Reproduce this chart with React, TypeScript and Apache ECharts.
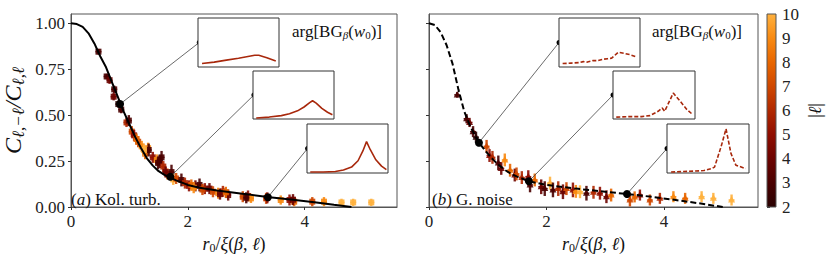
import React, { useEffect, useRef } from 'react';
import * as echarts from 'echarts';

const FONT = 'Liberation Serif';

// ---------- data ----------
const kolCurveX = [0, 0.1, 0.2, 0.3, 0.4, 0.5, 0.6, 0.7, 0.8, 0.9, 1.0, 1.1, 1.2, 1.3, 1.4, 1.5, 1.6, 1.7, 1.8, 2.0, 2.2, 2.5, 3.0, 3.4, 3.8, 4.2, 4.5, 4.8];
const kolCurveY = [1.0, 0.995, 0.98, 0.945, 0.89, 0.82, 0.76, 0.68, 0.6, 0.52, 0.45, 0.38, 0.32, 0.265, 0.225, 0.195, 0.175, 0.16, 0.145, 0.12, 0.105, 0.09, 0.07, 0.053, 0.04, 0.025, 0.012, 0.0];

const noiseCurveX = [0, 0.1, 0.2, 0.3, 0.4, 0.5, 0.6, 0.7, 0.8, 0.9, 1.0, 1.1, 1.2, 1.3, 1.4, 1.5, 1.7, 2.0, 2.5, 3.0, 3.4, 3.8, 4.2, 4.6, 5.0];
const noiseCurveY = [1.0, 0.99, 0.95, 0.88, 0.78, 0.64, 0.52, 0.44, 0.38, 0.33, 0.29, 0.255, 0.225, 0.2, 0.18, 0.165, 0.14, 0.12, 0.1, 0.083, 0.07, 0.055, 0.038, 0.02, 0.0];

const kolX = [0.47, 0.61, 0.66, 0.74, 0.73, 0.81, 0.86, 0.95, 0.99, 1.04, 1.08, 1.15, 1.21, 1.27, 1.32, 1.33, 1.40, 1.47, 1.49, 1.52, 1.55, 1.58, 1.65, 1.72, 1.75, 1.80, 1.89, 1.95, 2.02, 2.06, 2.13, 2.20, 2.29, 2.37, 2.43, 2.52, 2.60, 2.69, 2.94, 3.03, 3.08, 3.34, 3.59, 3.74, 3.82, 4.13, 4.33, 4.63, 4.83, 5.14, 2.10, 2.25, 2.55, 2.65, 3.00, 3.36, 3.80, 1.12, 1.25, 1.62];
const kolY = [0.845, 0.71, 0.69, 0.64, 0.60, 0.56, 0.53, 0.46, 0.47, 0.41, 0.39, 0.355, 0.33, 0.29, 0.32, 0.31, 0.27, 0.256, 0.24, 0.247, 0.27, 0.22, 0.18, 0.19, 0.15, 0.155, 0.147, 0.13, 0.115, 0.12, 0.115, 0.12, 0.10, 0.10, 0.083, 0.075, 0.085, 0.065, 0.056, 0.06, 0.047, 0.047, 0.038, 0.038, 0.029, 0.029, 0.029, 0.025, 0.025, 0.025, 0.105, 0.095, 0.07, 0.08, 0.05, 0.05, 0.04, 0.37, 0.31, 0.19];
const kolL = [3, 3, 4, 3, 4, 2, 3, 6, 3, 7, 5, 7, 9, 8, 9, 3, 5, 9, 3, 3, 3, 6, 8, 3, 10, 7, 3, 6, 5, 8, 4, 3, 5, 4, 7, 9, 6, 4, 7, 5, 9, 7, 9, 5, 8, 7, 9, 10, 10, 10, 9, 7, 4, 8, 3, 5, 4, 8, 10, 4];
const kolE = [0.015, 0.015, 0.02, 0.02, 0.02, 0.02, 0.02, 0.025, 0.03, 0.03, 0.03, 0.03, 0.03, 0.03, 0.03, 0.035, 0.03, 0.03, 0.035, 0.035, 0.035, 0.03, 0.03, 0.04, 0.03, 0.03, 0.035, 0.03, 0.03, 0.03, 0.03, 0.035, 0.03, 0.03, 0.03, 0.03, 0.03, 0.03, 0.03, 0.03, 0.025, 0.03, 0.025, 0.03, 0.025, 0.025, 0.025, 0.02, 0.02, 0.02, 0.03, 0.03, 0.03, 0.03, 0.03, 0.03, 0.03, 0.03, 0.03, 0.03];

const nzX = [0.48, 0.64, 0.69, 0.75, 0.80, 0.98, 1.03, 1.08, 1.18, 1.23, 1.29, 1.38, 1.46, 1.49, 1.58, 1.69, 1.72, 1.80, 1.91, 1.97, 2.06, 2.11, 2.20, 2.28, 2.34, 2.45, 2.50, 2.57, 2.68, 2.80, 2.91, 3.02, 3.10, 3.42, 3.50, 3.59, 3.76, 3.93, 4.16, 4.36, 4.64, 4.84, 5.15];
const nzY = [0.61, 0.48, 0.46, 0.41, 0.38, 0.33, 0.28, 0.27, 0.24, 0.21, 0.256, 0.20, 0.174, 0.18, 0.16, 0.165, 0.12, 0.147, 0.11, 0.10, 0.13, 0.093, 0.10, 0.083, 0.10, 0.093, 0.085, 0.083, 0.075, 0.08, 0.075, 0.056, 0.065, 0.038, 0.055, 0.065, 0.038, 0.047, 0.056, 0.047, 0.056, 0.047, 0.038];
const nzL = [3, 3, 4, 3, 2, 7, 5, 6, 3, 4, 9, 8, 4, 7, 6, 5, 3, 8, 4, 3, 10, 3, 6, 4, 7, 5, 9, 10, 3, 6, 5, 4, 8, 7, 8, 5, 7, 6, 9, 8, 10, 10, 10];
const nzE = [0.015, 0.025, 0.025, 0.03, 0.03, 0.035, 0.035, 0.035, 0.04, 0.035, 0.035, 0.035, 0.035, 0.035, 0.035, 0.035, 0.04, 0.035, 0.04, 0.04, 0.035, 0.04, 0.04, 0.04, 0.035, 0.04, 0.035, 0.035, 0.04, 0.035, 0.035, 0.035, 0.035, 0.035, 0.03, 0.03, 0.03, 0.03, 0.03, 0.03, 0.03, 0.03, 0.03];

// highlighted points (linked to insets)
const kolHiX = [0.84, 1.70, 3.37];
const kolHiY = [0.56, 0.165, 0.053];
const nzHiX = [0.85, 1.70, 3.37];
const nzHiY = [0.35, 0.14, 0.071];

// inset curves: arg[BG_beta(w0)] (normalised)
const kolInsetX = [
  [0.05, 0.2, 0.35, 0.5, 0.6, 0.7, 0.75, 0.85, 0.96],
  [0.04, 0.2, 0.35, 0.45, 0.55, 0.63, 0.7, 0.735, 0.78, 0.85, 0.92, 0.98],
  [0.04, 0.2, 0.35, 0.45, 0.55, 0.63, 0.69, 0.735, 0.78, 0.85, 0.92, 0.98],
];
const kolInsetY = [
  [0.07, 0.1, 0.14, 0.18, 0.21, 0.24, 0.24, 0.19, 0.12],
  [0.02, 0.04, 0.07, 0.11, 0.17, 0.25, 0.34, 0.38, 0.33, 0.22, 0.14, 0.09],
  [0.02, 0.02, 0.03, 0.06, 0.12, 0.25, 0.45, 0.64, 0.48, 0.27, 0.14, 0.07],
];
const nzInsetX = [
  [0.045, 0.15, 0.25, 0.3, 0.35, 0.42, 0.48, 0.55, 0.6, 0.65, 0.73, 0.8, 0.88, 0.95],
  [0.04, 0.2, 0.35, 0.45, 0.55, 0.6, 0.63, 0.735, 0.82, 0.9, 0.96],
  [0.05, 0.2, 0.35, 0.45, 0.54, 0.58, 0.66, 0.72, 0.78, 0.84, 0.96],
];
const nzInsetY = [
  [0.07, 0.08, 0.09, 0.11, 0.1, 0.13, 0.13, 0.16, 0.17, 0.18, 0.3, 0.28, 0.25, 0.21],
  [0.04, 0.05, 0.05, 0.07, 0.16, 0.23, 0.16, 0.54, 0.37, 0.2, 0.11],
  [0.02, 0.03, 0.04, 0.05, 0.09, 0.12, 0.54, 0.9, 0.4, 0.16, 0.09],
];

const yTicks = [0, 0.25, 0.5, 0.75, 1.0];
const xTicks = [0, 2, 4];
const CMAP = ['#2a0202', '#4a0000', '#6c0300', '#8f0d00', '#b02800', '#cf4700', '#e86600', '#f88a12', '#ffb13e'];

// ---------- layout ----------
const Y_MAX = 1.05;
const MAIN = [
  { left: 69, top: 14, width: 328, height: 193, xMax: 5.58 },
  { left: 429, top: 14, width: 329, height: 193, xMax: 5.6 },
];
const INSETS = [
  [
    { left: 198, top: 18, width: 81, height: 49 },
    { left: 253, top: 71, width: 81, height: 48 },
    { left: 307, top: 124, width: 81, height: 49 },
  ],
  [
    { left: 559, top: 18, width: 81, height: 49 },
    { left: 613, top: 71, width: 82, height: 48 },
    { left: 667, top: 124, width: 82, height: 49 },
  ],
];
const CBAR = { left: 767, top: 14, width: 9, height: 193 };

const toData = (g: any, px: number, py: number) => [
  ((px - g.left) / g.width) * g.xMax,
  ((g.top + g.height - py) / g.height) * Y_MAX,
];

const xRich = {
  i: { fontFamily: FONT, fontSize: 18, fontStyle: 'italic', color: '#111' },
  n: { fontFamily: FONT, fontSize: 18, color: '#111' },
  s: { fontFamily: FONT, fontSize: 12, fontStyle: 'italic', color: '#111', padding: [9, 0, 0, 0] },
  s0: { fontFamily: FONT, fontSize: 12, color: '#111', padding: [9, 0, 0, 0] },
};
const yRich = {
  i: { fontFamily: FONT, fontSize: 24, fontStyle: 'italic', color: '#111' },
  n: { fontFamily: FONT, fontSize: 24, color: '#111' },
  s: { fontFamily: FONT, fontSize: 17, fontStyle: 'italic', color: '#111', padding: [11, 0, 0, 0] },
};

function buildOption() {
  const grids: any[] = [];
  const xAxes: any[] = [];
  const yAxes: any[] = [];
  const series: any[] = [];
  const errIdx: number[] = [];

  const panels = [
    { curveX: kolCurveX, curveY: kolCurveY, px: kolX, py: kolY, pl: kolL, pe: kolE, hx: kolHiX, hy: kolHiY, ix: kolInsetX, iy: kolInsetY, dashed: false, marker: 'square' },
    { curveX: noiseCurveX, curveY: noiseCurveY, px: nzX, py: nzY, pl: nzL, pe: nzE, hx: nzHiX, hy: nzHiY, ix: nzInsetX, iy: nzInsetY, dashed: true, marker: 'triangle' },
  ];

  panels.forEach((p, k) => {
    const g = MAIN[k];
    const gi = grids.length;
    grids.push({ left: g.left, top: g.top, width: g.width, height: g.height, show: true, borderColor: '#555', borderWidth: 1, backgroundColor: 'transparent', z: 0 });
    xAxes.push({
      gridIndex: gi, type: 'value', min: 0, max: g.xMax,
      axisLine: { show: true, onZero: false, lineStyle: { color: '#555', width: 1 } },
      axisTick: { show: true, length: 3, customValues: xTicks, lineStyle: { color: '#333' } },
      axisLabel: { customValues: xTicks, fontFamily: FONT, fontSize: 17, color: '#222', margin: 6 },
      splitLine: { show: false },
      name: '{i|r}{s0|0}{n|/}{i|ξ}{n|(}{i|β}{n|, }{i|ℓ}{n|)}',
      nameLocation: 'middle', nameGap: 26,
      nameTextStyle: { rich: xRich },
    });
    yAxes.push({
      gridIndex: gi, type: 'value', min: 0, max: Y_MAX,
      axisLine: { show: true, lineStyle: { color: '#555', width: 1 } },
      axisTick: { show: true, length: 3, customValues: yTicks, lineStyle: { color: '#333' } },
      axisLabel: { show: k === 0, customValues: yTicks, formatter: (v: number) => v.toFixed(2), fontFamily: FONT, fontSize: 17, color: '#222', margin: 6 },
      splitLine: { show: false },
      name: k === 0 ? '{i|C}{s|ℓ,−ℓ}{i|/C}{s|ℓ,ℓ}' : '',
      nameLocation: 'middle', nameGap: 44,
      nameTextStyle: { rich: yRich },
    });

    // data points with error bars
    const data = p.px.map((x, j) => [x, p.py[j], p.pl[j], p.pe[j]]);
    errIdx.push(series.length);
    series.push({
      type: 'custom', xAxisIndex: gi, yAxisIndex: gi, z: 2,
      data,
      renderItem: (params: any, api: any) => {
        const x = api.value(0), y = api.value(1), e = api.value(3);
        const c = api.coord([x, y]);
        const t = api.coord([x, y + e]);
        const b = api.coord([x, y - e]);
        const color = api.visual('color');
        const children: any[] = [
          { type: 'line', shape: { x1: c[0], y1: t[1], x2: c[0], y2: b[1] }, style: { stroke: color, lineWidth: 2.4, opacity: 0.9 } },
          { type: 'line', shape: { x1: c[0] - 3, y1: c[1], x2: c[0] + 3, y2: c[1] }, style: { stroke: color, lineWidth: 1.5, opacity: 0.9 } },
        ];
        if (p.marker === 'square') {
          children.push({ type: 'rect', shape: { x: c[0] - 3, y: c[1] - 3, width: 6, height: 6 }, style: { fill: color, opacity: 0.9 } });
        } else {
          children.push({ type: 'polygon', shape: { points: [[c[0], c[1] - 4], [c[0] - 3.5, c[1] + 2.5], [c[0] + 3.5, c[1] + 2.5]] }, style: { fill: color, opacity: 0.9 } });
        }
        return { type: 'group', children };
      },
    });

    // model curve
    series.push({
      type: 'line', xAxisIndex: gi, yAxisIndex: gi, z: 3, showSymbol: false, silent: true,
      data: p.curveX.map((x, j) => [x, p.curveY[j]]),
      lineStyle: { color: '#000', width: 2, type: p.dashed ? [6, 3] : 'solid' },
    });

    // connectors
    const ends = INSETS[k].map((ins) => toData(g, ins.left, ins.top + ins.height / 2));
    series.push({
      type: 'lines', coordinateSystem: 'cartesian2d', xAxisIndex: gi, yAxisIndex: gi, z: 4, silent: true,
      data: p.hx.map((x, j) => ({ coords: [[x, p.hy[j]], ends[j]] })),
      lineStyle: { color: '#444', width: 0.8, opacity: 1 },
    });
    series.push({
      type: 'scatter', xAxisIndex: gi, yAxisIndex: gi, z: 5, silent: true,
      data: p.hx.map((x, j) => [x, p.hy[j]]),
      symbol: 'circle', symbolSize: 8, itemStyle: { color: '#000', opacity: 1 },
    });
    series.push({
      type: 'scatter', xAxisIndex: gi, yAxisIndex: gi, z: 5, silent: true,
      data: ends, symbol: 'circle', symbolSize: 5, itemStyle: { color: '#000', opacity: 1 },
    });

    // insets
    INSETS[k].forEach((ins, m) => {
      const ii = grids.length;
      grids.push({ left: ins.left, top: ins.top, width: ins.width, height: ins.height, show: true, borderColor: '#333', borderWidth: 1, backgroundColor: '#fff', z: 6 });
      xAxes.push({ gridIndex: ii, type: 'value', min: 0, max: 1, show: false });
      yAxes.push({ gridIndex: ii, type: 'value', min: 0, max: 1, show: false });
      series.push({
        type: 'line', xAxisIndex: ii, yAxisIndex: ii, z: 7, showSymbol: false, silent: true,
        data: p.ix[m].map((x, j) => [x, p.iy[m][j]]),
        lineStyle: { color: '#a8280c', width: 1.6, type: p.dashed ? [4, 2] : 'solid' },
      });
    });
  });

  // colorbar
  const ci = grids.length;
  grids.push({ left: CBAR.left, top: CBAR.top, width: CBAR.width, height: CBAR.height, show: false });
  xAxes.push({ gridIndex: ci, type: 'value', min: 0, max: 1, show: false });
  yAxes.push({
    gridIndex: ci, type: 'value', min: 2, max: 10, interval: 1, position: 'right',
    axisLine: { show: false },
    axisTick: { show: true, length: 3, lineStyle: { color: '#333' } },
    axisLabel: { fontFamily: FONT, fontSize: 17, color: '#222', margin: 6 },
    splitLine: { show: false },
    name: '|{i|ℓ}|', nameLocation: 'middle', nameGap: 30, nameRotate: 90,
    nameTextStyle: { fontFamily: FONT, fontSize: 18, color: '#111', rich: xRich },
  });
  const stops = CMAP.map((c, j) => ({ offset: j / (CMAP.length - 1), color: c }));
  series.push({
    type: 'custom', xAxisIndex: ci, yAxisIndex: ci, silent: true, z: 2,
    data: [[0, 2, 1, 10]],
    renderItem: (params: any, api: any) => {
      const a = api.coord([api.value(0), api.value(1)]);
      const b = api.coord([api.value(2), api.value(3)]);
      return {
        type: 'rect',
        shape: { x: a[0], y: b[1], width: b[0] - a[0], height: a[1] - b[1] },
        style: { fill: new echarts.graphic.LinearGradient(0, 1, 0, 0, stops), stroke: '#555', lineWidth: 1 },
      };
    },
  });

  const argText = '{n|arg[BG}{s|β}{n|(}{i|w}{s0|0}{n|)]}';
  const argRich = {
    n: { fontFamily: FONT, fontSize: 17, fill: '#111' },
    i: { fontFamily: FONT, fontSize: 17, fontStyle: 'italic', fill: '#111' },
    s: { fontFamily: FONT, fontSize: 11, fontStyle: 'italic', fill: '#111', padding: [8, 0, 0, 0] },
    s0: { fontFamily: FONT, fontSize: 11, fill: '#111', padding: [8, 0, 0, 0] },
  };
  const graphic = [
    { type: 'text', x: 292, y: 31, z: 10, style: { text: argText, rich: argRich, verticalAlign: 'middle' } },
    { type: 'text', x: 652, y: 31, z: 10, style: { text: argText, rich: argRich, verticalAlign: 'middle' } },
    { type: 'text', x: 71, y: 199, z: 10, style: { text: '{n|(}{i|a}{n|) Kol. turb.}', rich: argRich, verticalAlign: 'middle' } },
    { type: 'text', x: 432, y: 199, z: 10, style: { text: '{n|(}{i|b}{n|) G. noise}', rich: argRich, verticalAlign: 'middle' } },
  ];

  return {
    animation: false,
    backgroundColor: '#fff',
    textStyle: { fontFamily: FONT },
    grid: grids,
    xAxis: xAxes,
    yAxis: yAxes,
    visualMap: {
      type: 'continuous', show: false, min: 2, max: 10, dimension: 2, seriesIndex: errIdx,
      inRange: { color: CMAP },
    },
    graphic,
    series,
  };
}

export default function App() {
  const ref = useRef<HTMLDivElement>(null);
  useEffect(() => {
    if (!ref.current) return;
    const chart = echarts.init(ref.current, undefined, { renderer: 'svg' });
    chart.setOption(buildOption() as any);
    return () => chart.dispose();
  }, []);
  return <div ref={ref} style={{ position: 'fixed', left: 0, top: 0, width: 831, height: 261 }} />;
}
